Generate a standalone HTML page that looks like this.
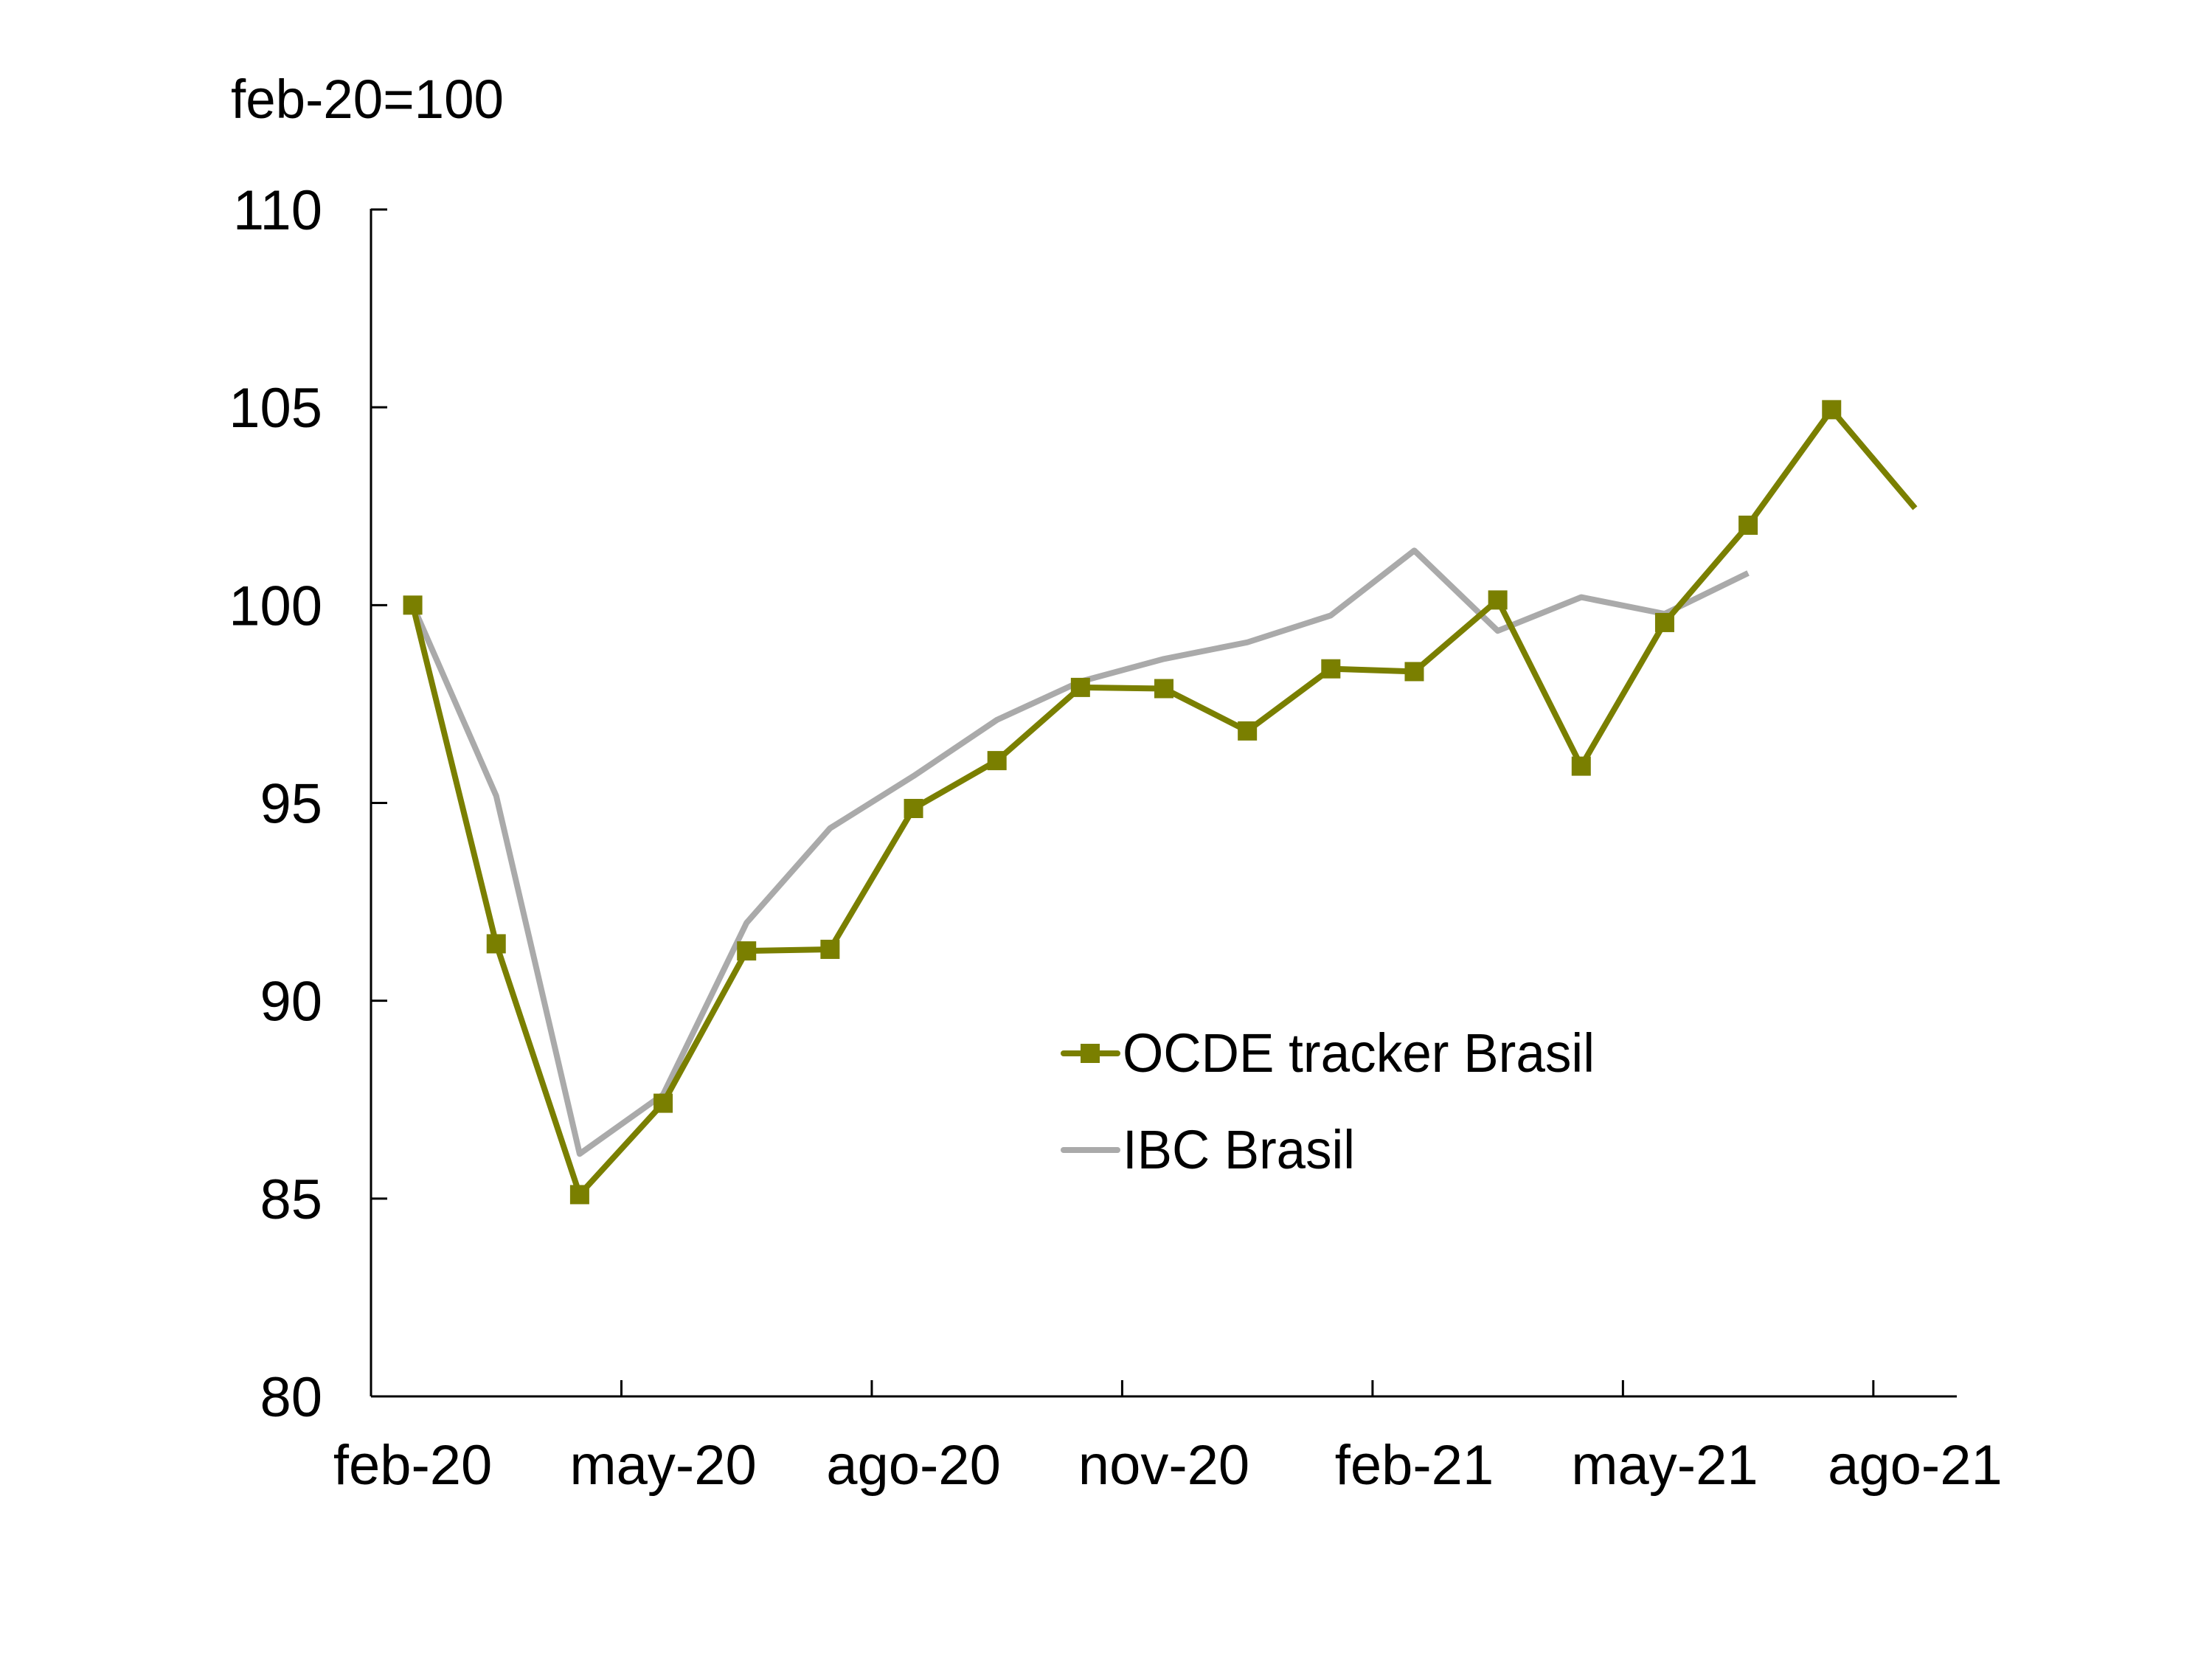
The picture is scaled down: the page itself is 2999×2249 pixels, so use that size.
<!DOCTYPE html>
<html><head><meta charset="utf-8"><style>
html,body{margin:0;padding:0;background:#fff;}
svg{display:block;font-family:"Liberation Sans",sans-serif;}
</style></head><body>
<svg id="chart" width="2999" height="2249" viewBox="0 0 2999 2249" xmlns="http://www.w3.org/2000/svg">
<rect width="2999" height="2249" fill="#fff"/>
<text x="313" y="160" font-size="74" textLength="370" lengthAdjust="spacingAndGlyphs">feb-20=100</text>
<g id="axes"></g>
<g id="series"></g>
<g>
<g>
<line x1="1442" y1="1428" x2="1515" y2="1428" stroke="#7a7f00" stroke-width="8" stroke-linecap="round"/>
<rect x="1465" y="1415" width="26" height="26" fill="#7a7f00"/>
<text x="1522" y="1453" font-size="74" textLength="640" lengthAdjust="spacingAndGlyphs">OCDE tracker Brasil</text>
</g>
<g>
<line x1="1442" y1="1559" x2="1515" y2="1559" stroke="#aaaaaa" stroke-width="8" stroke-linecap="round"/>
<text x="1522" y="1584" font-size="74" textLength="315" lengthAdjust="spacingAndGlyphs">IBC Brasil</text>
</g>
</g>
</svg>
<script>
const categories = ["feb-20","mar-20","abr-20","may-20","jun-20","jul-20","ago-20","sep-20","oct-20","nov-20","dic-20","ene-21","feb-21","mar-21","abr-21","may-21","jun-21","jul-21","ago-21"];
const ocdeValues = [100,91.44,85.1,87.41,91.26,91.3,94.86,96.07,97.92,97.89,96.82,98.39,98.32,100.13,95.93,99.56,102.02,104.94,102.45];
const ibcValues = [100,95.18,86.13,87.63,91.97,94.36,95.68,97.1,98.07,98.64,99.06,99.74,101.38,99.35,100.2,99.78,100.81];
const yTicks = [80,85,90,95,100,105,110];
const xTickLabels = ["feb-20","may-20","ago-20","nov-20","feb-21","may-21","ago-21"];

const NS="http://www.w3.org/2000/svg";
const X0=503, X1=2653, Y0=1893, Y1=284, YMIN=80, YMAX=110;
const band=(X1-X0)/categories.length;
function xPos(i){return X0+band*(i+0.5);}
function yPos(v){return Y0-(v-YMIN)/(YMAX-YMIN)*(Y0-Y1);}
function mk(tag,attrs,parent){const e=document.createElementNS(NS,tag);for(const k in attrs)e.setAttribute(k,attrs[k]);parent.appendChild(e);return e;}
const axes=document.getElementById('axes'), series=document.getElementById('series');

let e=mk('line',{x1:X0,y1:Y1-1,x2:X0,y2:Y0,stroke:'#000','stroke-width':3},axes);


e=mk('line',{x1:X0,y1:Y0,x2:X1,y2:Y0,stroke:'#000','stroke-width':3},axes);



yTicks.forEach(v=>{
  const y=yPos(v);
  let t=mk('line',{x1:X0,y1:y,x2:X0+22,y2:y,stroke:'#000','stroke-width':3},axes);
  
  
  let l=mk('text',{x:437,y:y+27,'font-size':76,'text-anchor':'end'},axes);
  l.textContent=v;
  
  
});
for(let i=3;i<categories.length;i+=3){
  const x=X0+band*i;
  let t=mk('line',{x1:x,y1:Y0,x2:x,y2:Y0-22,stroke:'#000','stroke-width':3},axes);
  
  
}
xTickLabels.forEach(lab=>{
  const i=categories.indexOf(lab);
  let l=mk('text',{x:xPos(i),y:2012,'font-size':76,'text-anchor':'middle'},axes);
  l.textContent=lab;
  
  
});

let p=mk('polyline',{points:ibcValues.map((v,i)=>xPos(i)+','+yPos(v)).join(' '),fill:'none',stroke:'#aaaaaa','stroke-width':8,'stroke-linejoin':'round'},series);


p=mk('polyline',{points:ocdeValues.map((v,i)=>xPos(i)+','+yPos(v)).join(' '),fill:'none',stroke:'#7a7f00','stroke-width':8,'stroke-linejoin':'round'},series);


ocdeValues.forEach((v,i)=>{
  if(i===ocdeValues.length-1) return;
  let m=mk('rect',{x:xPos(i)-13,y:yPos(v)-13,width:26,height:26,fill:'#7a7f00'},series);
  
  
});
</script>
</body></html>
